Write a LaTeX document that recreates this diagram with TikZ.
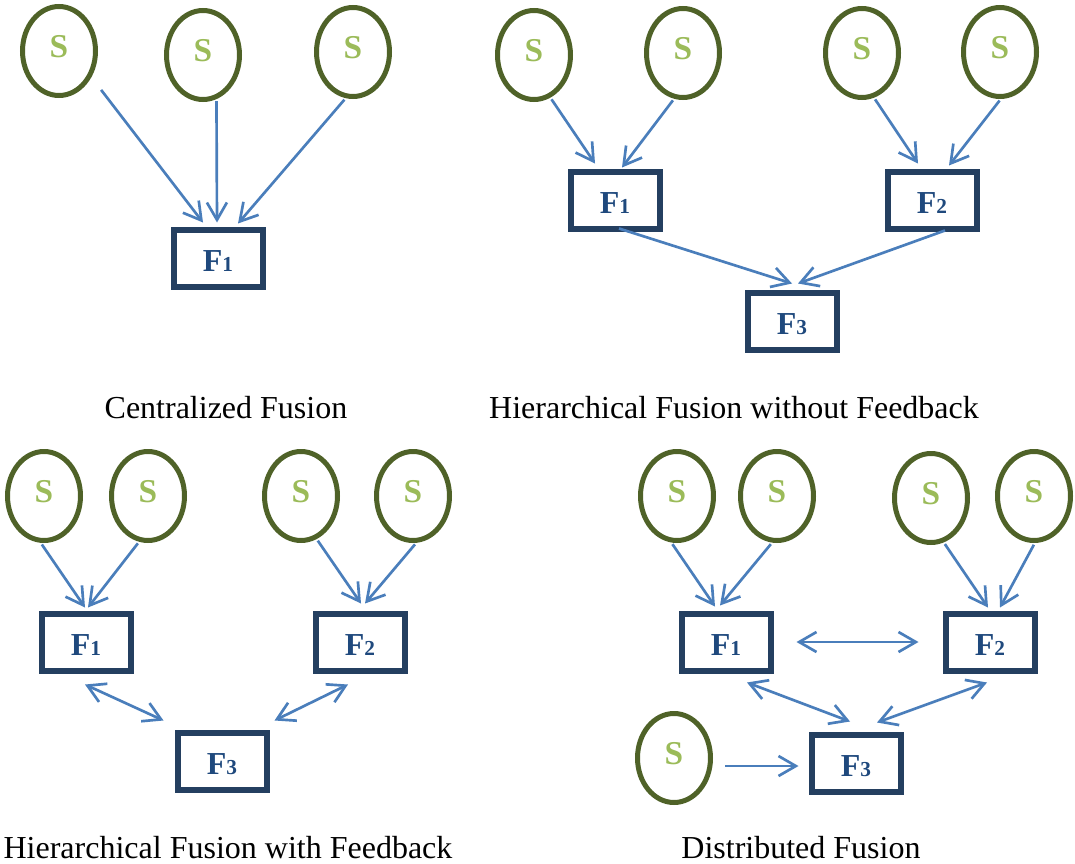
\documentclass[tikz,border=0pt]{standalone}
\usepackage{fontspec}
\setmainfont{Liberation Serif}
\usetikzlibrary{arrows.meta,shapes.geometric}
\definecolor{colorSensorLine}{HTML}{4F6228}
\definecolor{colorSensorText}{HTML}{9BBB59}
\definecolor{colorFusionLine}{HTML}{243F60}
\definecolor{colorFusionText}{HTML}{1F497D}
\definecolor{colorLink}{HTML}{4A7EBB}
\newcommand{\fusionName}[1]{F{\fontsize{16}{16}\selectfont #1}}

\begin{document}
\begin{tikzpicture}[x=0.75pt, y=-0.75pt,
    sensor/.style={ellipse, draw=colorSensorLine, line width=3.75pt, minimum width=54.75pt, minimum height=66.75pt,
      inner sep=0pt, text depth=7.5pt, text=colorSensorText, font=\fontsize{25}{25}\selectfont\bfseries},
    fusion/.style={rectangle, draw=colorFusionLine, line width=4.5pt, minimum width=66.75pt, minimum height=42.75pt,
      inner sep=0pt, outer sep=0pt, text height=20pt, text=colorFusionText, font=\fontsize{24}{24}\selectfont\bfseries},
    link/.style={colorLink, line width=2pt, >={Straight Barb[length=13pt,width=15pt]}},
    sense/.style={link, ->, shorten <=1.5pt},
    caption/.style={anchor=base, font=\fontsize{24}{24}\selectfont}]

        \useasboundingbox (0,0) rectangle (1075,864);

        \node[sensor] (cS1) at (59,51) {S};
        \node[sensor] (cS2) at (203,55) {S};
        \node[sensor] (cS3) at (353,52) {S};
        \node[fusion] (cF1) at (218,258) {\fusionName{1}};

        \draw[sense, shorten <=12pt] (cS1.-39) -- ([shift={(-15,-7)}]cF1.north);
        \draw[sense] (cS2.-73) -- ([shift={(-1,-7)}]cF1.north);
        \draw[sense] (cS3.-99) -- ([shift={(20,-6)}]cF1.north);

        \node[caption] (cCap) at (226,418) {Centralized Fusion};

        \node[sensor] (hS1) at (534,55) {S};
        \node[sensor] (hS2) at (683,53) {S};
        \node[sensor] (hS3) at (862,53) {S};
        \node[sensor] (hS4) at (1000,52) {S};
        \node[fusion] (hF1) at (615,200) {\fusionName{1}};
        \node[fusion] (hF2) at (932,200) {\fusionName{2}};
        \node[fusion] (hF3) at (792,321) {\fusionName{3}};

        \draw[sense] (hS1.-69) -- ([shift={(-20,-8)}]hF1.north);
        \draw[sense] (hS2.-101) -- ([shift={(7,-4)}]hF1.north);
        \draw[sense] (hS3.-75) -- ([shift={(-14,-8)}]hF2.north);
        \draw[sense] (hS4.-89) -- ([shift={(17,-6)}]hF2.north);
        \draw[link, ->] ([shift={(4,0)}]hF1.south) -- ([shift={(0,-9)}]hF3.north);
        \draw[link, ->] ([shift={(13,2)}]hF2.south) -- ([shift={(6,-9)}]hF3.north);

        \node[caption] (hCap) at (734,418) {Hierarchical Fusion without Feedback};

        \node[sensor] (fbS1) at (44,496) {S};
        \node[sensor] (fbS2) at (148,496) {S};
        \node[sensor] (fbS3) at (301,496) {S};
        \node[sensor] (fbS4) at (413,496) {S};
        \node[fusion] (fbF1) at (86,642) {\fusionName{1}};
        \node[fusion] (fbF2) at (360,642) {\fusionName{2}};
        \node[fusion] (fbF3) at (222,761) {\fusionName{3}};

        \draw[sense] (fbS1.-94) -- ([shift={(-1,-6)}]fbF1.north);
        \draw[sense] (fbS2.-101) -- ([shift={(2,-6)}]fbF1.north);
        \draw[sense] (fbS3.-70) -- ([shift={(1,-10)}]fbF2.north);
        \draw[sense] (fbS4.-86) -- ([shift={(5,-10)}]fbF2.north);
        \draw[link, <->] ([shift={(-1,14)}]fbF1.south) -- ([shift={(-14,-12)}]fbF3.north west);
        \draw[link, <->] ([shift={(-12,14)}]fbF2.south) -- ([shift={(8,-12)}]fbF3.north east);

        \node[caption] (fbCap) at (228,858) {Hierarchical Fusion with Feedback};

        \node[sensor] (dS1) at (677,496) {S};
        \node[sensor] (dS2) at (777,496) {S};
        \node[sensor] (dS3) at (931,498) {S};
        \node[sensor] (dS4) at (1034,496) {S};
        \node[sensor] (dS5) at (674,758) {S};
        \node[fusion] (dF1) at (726,642) {\fusionName{1}};
        \node[fusion] (dF2) at (990,642) {\fusionName{2}};
        \node[fusion] (dF3) at (856,763) {\fusionName{3}};

        \draw[sense] (dS1.-97) -- ([shift={(-11,-7)}]dF1.north);
        \draw[sense] (dS2.-96) -- ([shift={(-6,-8)}]dF1.north);
        \draw[sense] (dS3.-74) -- ([shift={(-2,-6)}]dF2.north);
        \draw[sense] (dS4.-89) -- ([shift={(10,-6)}]dF2.north);
        \draw[link, <->] ([shift={(26,0)}]dF1.east) -- ([shift={(-27,0)}]dF2.west);
        \draw[link, <->] ([shift={(21,12)}]dF1.south) -- ([shift={(-6,-13)}]dF3.north);
        \draw[link, <->] ([shift={(-3,12)}]dF2.south) -- ([shift={(21,-12)}]dF3.north);
        \draw[link, ->] ([shift={(12,8)}]dS5.east) -- ([shift={(-13,3)}]dF3.west);

        \node[caption] (dCap) at (801,858) {Distributed Fusion};

      \end{tikzpicture}
\end{document}
